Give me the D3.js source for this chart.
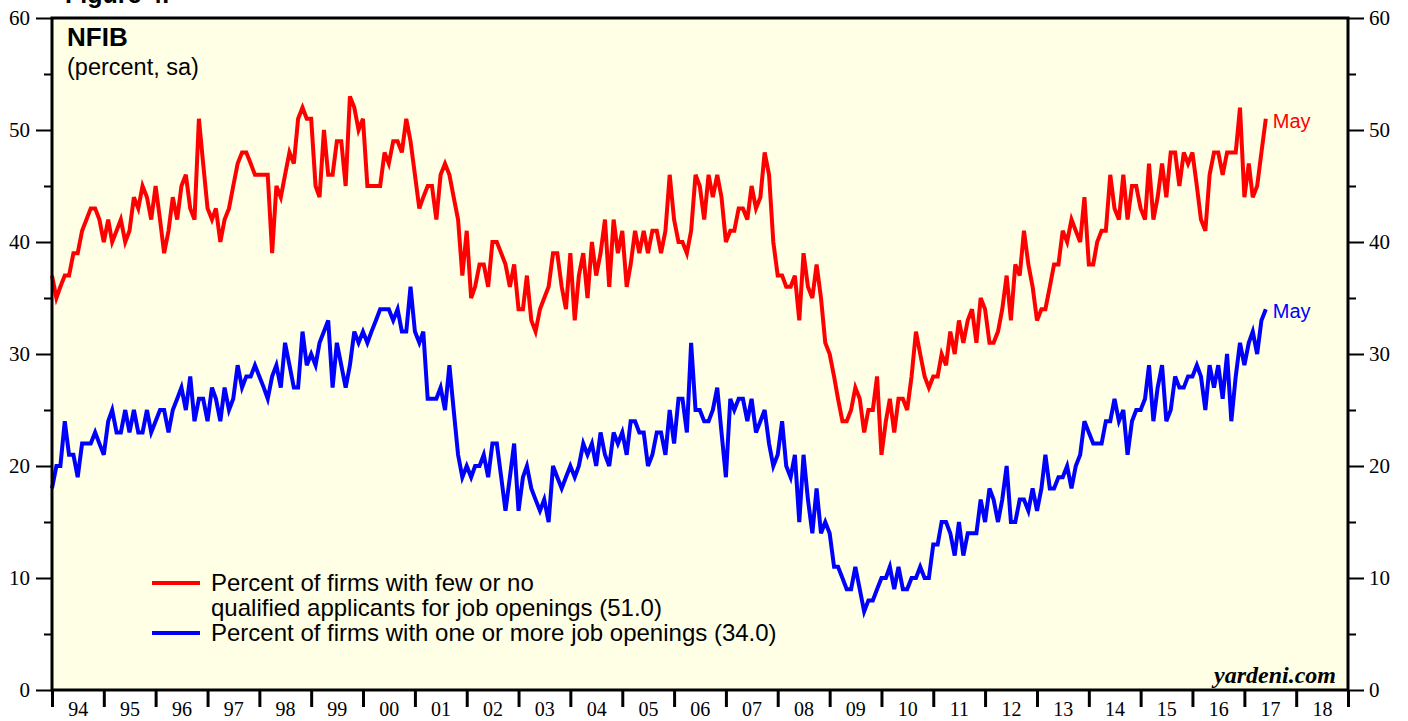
<!DOCTYPE html>
<html>
<head>
<meta charset="utf-8">
<script src="https://cdn.jsdelivr.net/npm/d3@7"></script>
<style>
  body { margin: 0; background: #fff; }
  svg { display: block; }
</style>
</head>
<body>
<div id="chart"></div>
<script>
// Monthly readings, Dec 1993 .. May 2017 (plotted at month end)
const startMonth = new Date(1993, 11, 1);

// Percent of firms with few or no qualified applicants for job openings
const fewQualified = [
  37,35,36,37,37,39,39,41,42,43,43,42,
  40,42,40,41,42,40,41,44,43,45,44,42,
  45,42,39,41,44,42,45,46,43,42,51,47,
  43,42,43,40,42,43,45,47,48,48,47,46,
  46,46,46,39,45,44,46,48,47,51,52,51,
  51,45,44,50,46,46,49,49,45,53,52,50,
  51,45,45,45,45,48,47,49,49,48,51,49,
  46,43,44,45,45,42,46,47,46,44,42,37,
  41,35,36,38,38,36,40,40,39,38,36,38,
  34,34,37,33,32,34,35,36,39,39,36,34,
  39,33,37,39,35,40,37,39,42,36,42,39,
  41,36,38,41,39,41,39,41,41,39,41,46,
  42,40,40,39,41,46,45,42,46,44,46,44,
  40,41,41,43,43,42,45,43,44,48,46,40,
  37,37,36,36,37,33,39,36,35,38,35,31,
  30,28,26,24,24,25,27,26,23,25,25,28,
  21,24,26,23,26,26,25,28,32,30,28,27,
  28,28,30,29,32,30,33,31,33,34,31,35,
  34,31,31,32,34,37,33,38,37,41,38,36,
  33,34,34,36,38,38,41,40,42,41,40,44,
  38,38,40,41,41,46,43,42,46,42,45,45,
  43,42,47,42,44,47,44,48,48,45,48,47,
  48,45,42,41,46,48,48,46,48,48,48,52,
  44,47,44,45,48,51
];

// Percent of firms with one or more job openings
const jobOpenings = [
  18,20,20,24,21,21,19,22,22,22,23,22,
  21,24,25,23,23,25,23,25,23,23,25,23,
  24,25,25,23,25,26,27,25,28,24,26,26,
  24,27,26,24,27,25,26,29,27,28,28,29,
  28,27,26,28,29,27,31,29,27,27,32,29,
  30,29,31,32,33,27,31,29,27,29,32,31,
  32,31,32,33,34,34,34,33,34,32,32,36,
  32,31,32,26,26,26,27,25,29,25,21,19,
  20,19,20,20,21,19,22,22,19,16,19,22,
  16,19,20,18,17,16,17,15,20,19,18,19,
  20,19,20,22,21,22,20,23,21,20,23,22,
  23,21,24,24,23,23,20,21,23,23,21,25,
  22,26,26,23,31,25,25,24,24,25,27,23,
  19,26,25,26,26,24,26,23,24,25,22,20,
  21,24,20,19,21,15,21,17,14,18,14,15,
  14,11,11,10,9,9,11,9,7,8,8,9,
  10,10,11,9,11,9,9,10,10,11,10,10,
  13,13,15,15,14,12,15,12,14,14,14,17,
  15,18,17,15,17,20,15,15,17,17,16,18,
  16,18,21,18,18,19,19,20,18,20,21,24,
  23,22,22,22,24,24,26,24,25,21,24,25,
  25,26,29,24,27,29,24,25,28,27,27,28,
  28,29,28,25,29,27,29,26,30,24,28,31,
  29,31,32,30,33,34
];

const yTicks = d3.range(0, 61, 5);
const yearTicks = d3.range(1994, 2020);
const yearLabels = d3.range(1994, 2019);

const seriesInfo = [
  { values: fewQualified, color: "#ff0000",
    label: ["Percent of firms with few or no", "qualified applicants for job openings (51.0)"] },
  { values: jobOpenings, color: "#0000ff",
    label: ["Percent of firms with one or more job openings (34.0)"] }
];

const width = 1408, height = 721;
const plot = { left: 52, right: 1348, top: 18, bottom: 690 };
const sans = "Arial, 'Liberation Sans', sans-serif";
const serif = "'Times New Roman', 'Liberation Serif', serif";

const svg = d3.select("#chart").append("svg")
  .attr("width", width)
  .attr("height", height);

const x = d3.scaleTime()
  .domain([new Date(1994, 0, 1), new Date(2019, 0, 1)])
  .range([plot.left, plot.right]);

const y = d3.scaleLinear()
  .domain([0, 60])
  .range([plot.bottom, plot.top]);

// plot background
svg.append("rect")
  .attr("x", plot.left).attr("y", plot.top)
  .attr("width", plot.right - plot.left)
  .attr("height", plot.bottom - plot.top)
  .attr("fill", "#ffffe6");

// figure title, cut off by the top edge like in the source
svg.append("text")
  .attr("x", 65).attr("y", 3)
  .style("font-family", sans)
  .style("font-weight", "bold")
  .style("font-size", "25px")
  .text("Figure 4.");

svg.append("text")
  .attr("x", 67).attr("y", 46)
  .style("font-family", sans)
  .style("font-weight", "bold")
  .style("font-size", "26px")
  .text("NFIB");

svg.append("text")
  .attr("x", 67).attr("y", 75)
  .style("font-family", sans)
  .style("font-size", "23.5px")
  .text("(percent, sa)");

// lines
const line = d3.line()
  .x((d, i) => x(d3.timeMonth.offset(startMonth, i + 1)))
  .y(d => y(d));

seriesInfo.forEach(s => {
  svg.append("path")
    .datum(s.values)
    .attr("fill", "none")
    .attr("stroke", s.color)
    .attr("stroke-width", 4)
    .attr("d", line);

  const last = s.values.length - 1;
  svg.append("text")
    .attr("x", x(d3.timeMonth.offset(startMonth, last + 1)) + 7)
    .attr("y", y(s.values[last]) + 9)
    .attr("fill", s.color)
    .style("font-family", sans)
    .style("font-size", "20px")
    .text("May");
});

// legend
const legend = svg.append("g");
let baseline = 591;
seriesInfo.forEach(s => {
  legend.append("line")
    .attr("x1", 152).attr("x2", 200)
    .attr("y1", baseline - 8).attr("y2", baseline - 8)
    .attr("stroke", s.color)
    .attr("stroke-width", 4);
  s.label.forEach(t => {
    legend.append("text")
      .attr("x", 211).attr("y", baseline)
      .style("font-family", sans)
      .style("font-size", "24px")
      .text(t);
    baseline += 25;
  });
});

svg.append("text")
  .attr("x", 1336).attr("y", 683)
  .attr("text-anchor", "end")
  .style("font-family", serif)
  .style("font-weight", "bold")
  .style("font-style", "italic")
  .style("font-size", "24px")
  .text("yardeni.com");

// axes
const leftAxis = svg.append("g")
  .attr("transform", `translate(${plot.left},0)`)
  .call(d3.axisLeft(y).tickValues(yTicks).tickSize(16).tickPadding(6)
    .tickFormat(d => d % 10 === 0 ? d : ""));

const rightAxis = svg.append("g")
  .attr("transform", `translate(${plot.right},0)`)
  .call(d3.axisRight(y).tickValues(yTicks).tickSize(16).tickPadding(5)
    .tickFormat(d => d % 10 === 0 ? d : ""));

[leftAxis, rightAxis].forEach((g, j) => {
  g.select(".domain").remove();
  g.selectAll(".tick line")
    .attr("stroke", "#000")
    .attr("stroke-width", 2)
    .filter(d => d % 10 !== 0)
    .attr("x2", j === 0 ? -8 : 8);
  g.selectAll("text")
    .style("font-family", serif)
    .style("font-size", "21px")
    .attr("fill", "#000");
});

const bottomTicks = svg.append("g")
  .attr("transform", `translate(0,${plot.bottom})`)
  .call(d3.axisBottom(x).tickValues(yearTicks.map(yr => new Date(yr, 0, 1)))
    .tickSize(17).tickFormat(""));
bottomTicks.select(".domain").remove();
bottomTicks.selectAll(".tick line").attr("stroke", "#000").attr("stroke-width", 3);

// year labels sit mid-year between the ticks
const bottomLabels = svg.append("g")
  .attr("transform", `translate(0,${plot.bottom})`)
  .call(d3.axisBottom(x).tickValues(yearLabels.map(yr => new Date(yr, 6, 1)))
    .tickSize(0).tickPadding(12).tickFormat(d3.timeFormat("%y")));
bottomLabels.select(".domain").remove();
bottomLabels.selectAll("text")
  .style("font-family", serif)
  .style("font-size", "20px")
  .attr("fill", "#000");

// frame
svg.append("rect")
  .attr("x", plot.left).attr("y", plot.top)
  .attr("width", plot.right - plot.left)
  .attr("height", plot.bottom - plot.top)
  .attr("fill", "none")
  .attr("stroke", "#000")
  .attr("stroke-width", 3);
</script>
</body>
</html>
